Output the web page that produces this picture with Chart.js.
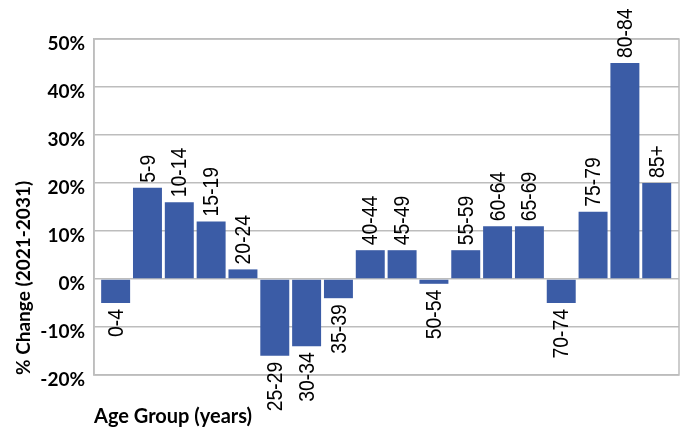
<!DOCTYPE html>
<html>
<head>
<meta charset="utf-8">
<script src="https://cdn.jsdelivr.net/npm/chart.js@4.4.1/dist/chart.umd.min.js"></script>
<style>
  html, body { margin: 0; padding: 0; background: #ffffff; }
  #wrap { width: 684px; height: 430px; }
</style>
</head>
<body>
<div id="wrap"><canvas id="chart" width="684" height="430"></canvas></div>
<script>
// Projected population change by five-year age group, 2021 to 2031
const ageGroups = ['0-4', '5-9', '10-14', '15-19', '20-24', '25-29', '30-34', '35-39', '40-44',
                   '45-49', '50-54', '55-59', '60-64', '65-69', '70-74', '75-79', '80-84', '85+'];
const pctChange = [-5, 19, 16, 12, 2, -16, -14, -4, 6, 6, -1, 6, 11, 11, -5, 14, 45, 20];
const yTicks = [-20, -10, 0, 10, 20, 30, 40, 50];

const BAR_BLUE = '#3b5ca6';
const GRID_GREY = '#bdbdbd';
const AXIS_FONT = 'Lato, "Liberation Sans", sans-serif';

// Group names written vertically beside each bar end
const barNames = {
  id: 'barNames',
  afterDatasetsDraw(chart) {
    const ctx = chart.ctx;
    const meta = chart.getDatasetMeta(0);
    ctx.save();
    ctx.fillStyle = '#000000';
    ctx.font = '22px "Liberation Sans", Arial, sans-serif';
    ctx.textBaseline = 'middle';
    meta.data.forEach((bar, i) => {
      const v = pctChange[i];
      ctx.save();
      if (v >= 0) {
        ctx.translate(bar.x, bar.y - 5);
        ctx.rotate(-Math.PI / 2);
        ctx.textAlign = 'left';
      } else {
        ctx.translate(bar.x, bar.y + 6);
        ctx.rotate(-Math.PI / 2);
        ctx.textAlign = 'right';
      }
      ctx.scale(0.88, 1);
      ctx.fillText(ageGroups[i], 0, 1);
      ctx.restore();
    });
    ctx.restore();
  }
};

// Thin frame round the plot area
const plotFrame = {
  id: 'plotFrame',
  beforeDatasetsDraw(chart) {
    const a = chart.chartArea;
    const ctx = chart.ctx;
    ctx.save();
    ctx.strokeStyle = GRID_GREY;
    ctx.lineWidth = 1.5;
    ctx.strokeRect(a.left, a.top, a.right - a.left, a.bottom - a.top);
    ctx.restore();
  }
};

new Chart(document.getElementById('chart'), {
  type: 'bar',
  data: {
    datasets: [{
      data: pctChange.map((v, i) => ({ x: i, y: v })),
      backgroundColor: BAR_BLUE,
      borderWidth: 0,
      barPercentage: 0.91,
      categoryPercentage: 1.0
    }]
  },
  options: {
    responsive: false,
    animation: false,
    events: [],
    layout: { padding: { top: 39, right: 5, left: 0, bottom: 0 } },
    plugins: {
      legend: { display: false },
      tooltip: { enabled: false }
    },
    scales: {
      x: {
        type: 'linear',
        offset: false,
        min: -0.68,
        max: ageGroups.length - 1 + 0.7,
        grid: { display: false, drawTicks: false },
        border: { display: false },
        ticks: { display: false },
        title: {
          display: true,
          text: 'Age Group (years)',
          align: 'start',
          color: '#000000',
          font: { family: AXIS_FONT, size: 20, weight: 'bold' },
          padding: { top: 0, bottom: 1 }
        },
        afterFit(scale) { scale.height = 55; }
      },
      y: {
        min: yTicks[0],
        max: yTicks[yTicks.length - 1],
        afterBuildTicks(scale) { scale.ticks = yTicks.map(v => ({ value: v })); },
        grid: { color: GRID_GREY, lineWidth: 1.5, drawTicks: false },
        border: { display: true, color: GRID_GREY, width: 1.5 },
        ticks: {
          padding: 9,
          labelOffset: 5,
          color: '#000000',
          font: { family: AXIS_FONT, size: 19, weight: 'bold' },
          callback: v => v + '%'
        },
        title: {
          display: true,
          text: '% Change (2021-2031)',
          align: 'start',
          color: '#000000',
          font: { family: AXIS_FONT, size: 19, weight: 'bold' },
          padding: { top: 12, bottom: 0 }
        },
        afterFit(scale) { scale.width = 94; }
      }
    }
  },
  plugins: [plotFrame, barNames]
});
</script>
</body>
</html>
